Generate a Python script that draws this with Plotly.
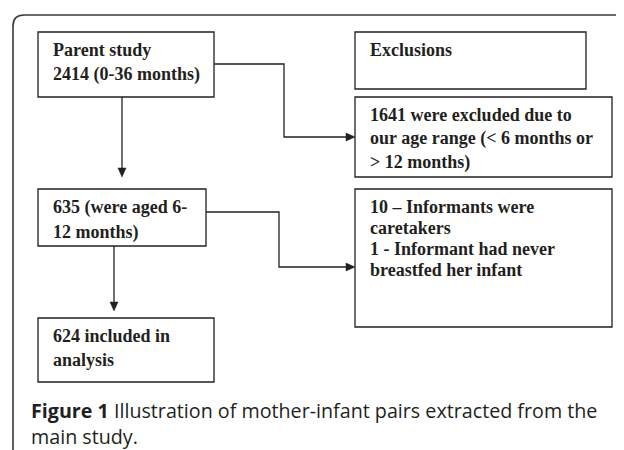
import plotly.graph_objects as go

# ---- content ----
box_texts = {
    "parent": ["Parent study", "2414 (0-36 months)"],
    "excl_head": ["Exclusions"],
    "excl_age": ["1641 were excluded due to", "our age range (< 6 months or", "> 12 months)"],
    "aged": ["635 (were aged 6-", "12 months)"],
    "excl_inf": ["10 \u2013 Informants were", "caretakers", "1 - Informant had never", "breastfed her infant"],
    "included": ["624 included in", "analysis"],
}
caption_bold = "Figure 1"
caption_rest = ["Illustration of mother-infant pairs extracted from the", "main study."]

# ---- layout geometry (pixels) ----
boxes = {
    "parent":    dict(x0=38, y0=32, x1=214, y1=97, ty=50, dy=24),
    "excl_head": dict(x0=355, y0=32, x1=586, y1=89, ty=50, dy=24),
    "excl_age":  dict(x0=355, y0=97, x1=612, y1=177, ty=115, dy=23.5),
    "aged":      dict(x0=38, y0=189, x1=206, y1=246, ty=207, dy=25),
    "excl_inf":  dict(x0=355, y0=189, x1=612, y1=327, ty=207, dy=21),
    "included":  dict(x0=38, y0=318, x1=214, y1=382, ty=336, dy=24),
}
# connectors: polyline points, last point is arrow tip
connectors = [
    [(122, 97), (122, 177)],
    [(214, 64), (284, 64), (284, 137), (355, 137)],
    [(114, 246), (114, 311)],
    [(206, 212), (279, 212), (279, 267), (355, 267)],
]

INK = "#231f20"
OFF = 8  # default page body margin
fig = go.Figure()
fig.add_trace(go.Scatter(x=[300], y=[300], mode="markers", marker=dict(opacity=0), hoverinfo="skip", showlegend=False))

shapes = []
annotations = []

# outer frame with rounded top-left corner
r = 11
shapes.append(dict(type="path",
                   path=f"M 13,452 L 13,{15+r} Q 13,15 {13+r},15 L 630,15",
                   line=dict(color="#3a3a3a", width=1.6), xref="x", yref="y"))

for key, b in boxes.items():
    shapes.append(dict(type="rect", x0=b["x0"], y0=b["y0"], x1=b["x1"], y1=b["y1"],
                       line=dict(color=INK, width=1.3), fillcolor="rgba(0,0,0,0)", xref="x", yref="y"))
    for i, line in enumerate(box_texts[key]):
        annotations.append(dict(x=b["x0"] + 13, y=b["ty"] + i * b["dy"], text=f"<b>{line}</b>",
                                showarrow=False, xanchor="left", yanchor="middle", xref="x", yref="y",
                                font=dict(family="Liberation Serif", size=18, color=INK)))

for pts in connectors:
    path = "M " + " L ".join(f"{x},{y}" for x, y in pts[:-1])
    (xa, ya), (xb, yb) = pts[-2], pts[-1]
    L = 9
    w = 4
    if xa == xb:  # vertical, downward
        base = yb - L
        path += f" L {xb},{base}"
        head = f"M {xb-w},{base} L {xb+w},{base} L {xb},{yb} Z"
    else:  # horizontal, rightward
        base = xb - L
        path += f" L {base},{yb}"
        head = f"M {base},{yb-w} L {base},{yb+w} L {xb},{yb} Z"
    shapes.append(dict(type="path", path=path, line=dict(color=INK, width=1.3), xref="x", yref="y"))
    shapes.append(dict(type="path", path=head, line=dict(color=INK, width=0.5), fillcolor=INK, xref="x", yref="y"))

annotations.append(dict(x=29, y=410, text=f"<b>{caption_bold}</b> {caption_rest[0]}", showarrow=False,
                        xanchor="left", yanchor="middle", xref="x", yref="y",
                        font=dict(family="Open Sans", size=19.7, color=INK)))
annotations.append(dict(x=29, y=436, text=caption_rest[1], showarrow=False,
                        xanchor="left", yanchor="middle", xref="x", yref="y",
                        font=dict(family="Open Sans", size=19.7, color=INK)))

fig.update_layout(
    width=624 - OFF, height=450 - OFF, margin=dict(l=0, r=0, t=0, b=0),
    paper_bgcolor="white", plot_bgcolor="white",
    xaxis=dict(range=[OFF, 624], visible=False, fixedrange=True),
    yaxis=dict(range=[450, OFF], visible=False, fixedrange=True),
    shapes=shapes, annotations=annotations, showlegend=False,
)
fig.write_html("out.html", config={"displayModeBar": False})
